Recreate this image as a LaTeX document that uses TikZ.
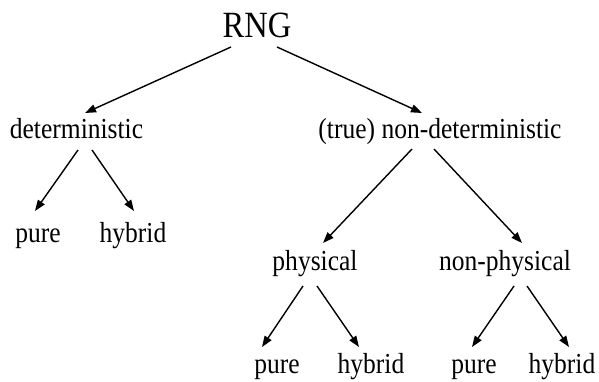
\documentclass[tikz,border=0pt]{standalone}
\usepackage{fontspec}
\setmainfont{Liberation Serif}
\newfontfamily\labfont[FakeStretch=0.88]{Liberation Serif}
\usetikzlibrary{arrows.meta,calc}
\begin{document}
\begin{tikzpicture}[x=1pt,y=-1pt,
  lab/.style={inner sep=0pt,anchor=base,font=\labfont\fontsize{29}{31}\selectfont},
  rootlab/.style={inner sep=0pt,anchor=base,font=\labfont\fontsize{37}{39}\selectfont},
  arr/.style={line width=1.4pt,-{Triangle[length=11pt,width=8pt]}}]
\useasboundingbox (0,0) rectangle (599,382);
% labels, placed by their baselines
\node[rootlab] (rng) at (257,38) {RNG};
\node[lab] (det) at (76.5,139) {deterministic};
\node[lab] (nondet) at (440,139) {(true) non-deterministic};
\node[lab] (pureA) at (38,242) {pure};
\node[lab] (hybA) at (133,242) {hybrid};
\node[lab] (phys) at (315,270) {physical};
\node[lab] (nonphys) at (505,270) {non-physical};
\node[lab] (pureB) at (277,373) {pure};
\node[lab] (hybB) at (371,373) {hybrid};
\node[lab] (pureC) at (474,373) {pure};
\node[lab] (hybC) at (562,373) {hybrid};
% connectors
\draw[arr] ($(rng.base)+(-26,9)$) -- ($(det.base)+(8.5,-26)$);
\draw[arr] ($(rng.base)+(20,9)$) -- ($(nondet.base)+(-18,-26)$);
\draw[arr] ($(det.base)+(1.5,11)$) -- ($(pureA.base)+(-3,-31)$);
\draw[arr] ($(det.base)+(15.5,11)$) -- ($(hybA.base)+(1,-31)$);
\draw[arr] ($(nondet.base)+(-28,10)$) -- ($(phys.base)+(8,-27)$);
\draw[arr] ($(nondet.base)+(-6,10)$) -- ($(nonphys.base)+(17,-27)$);
\draw[arr] ($(phys.base)+(-12,16)$) -- ($(pureB.base)+(-15,-26)$);
\draw[arr] ($(phys.base)+(2,16)$) -- ($(hybB.base)+(-12,-26)$);
\draw[arr] ($(nonphys.base)+(9,16)$) -- ($(pureC.base)+(-2,-26)$);
\draw[arr] ($(nonphys.base)+(22,16)$) -- ($(hybC.base)+(7,-26)$);
\end{tikzpicture}
\end{document}
